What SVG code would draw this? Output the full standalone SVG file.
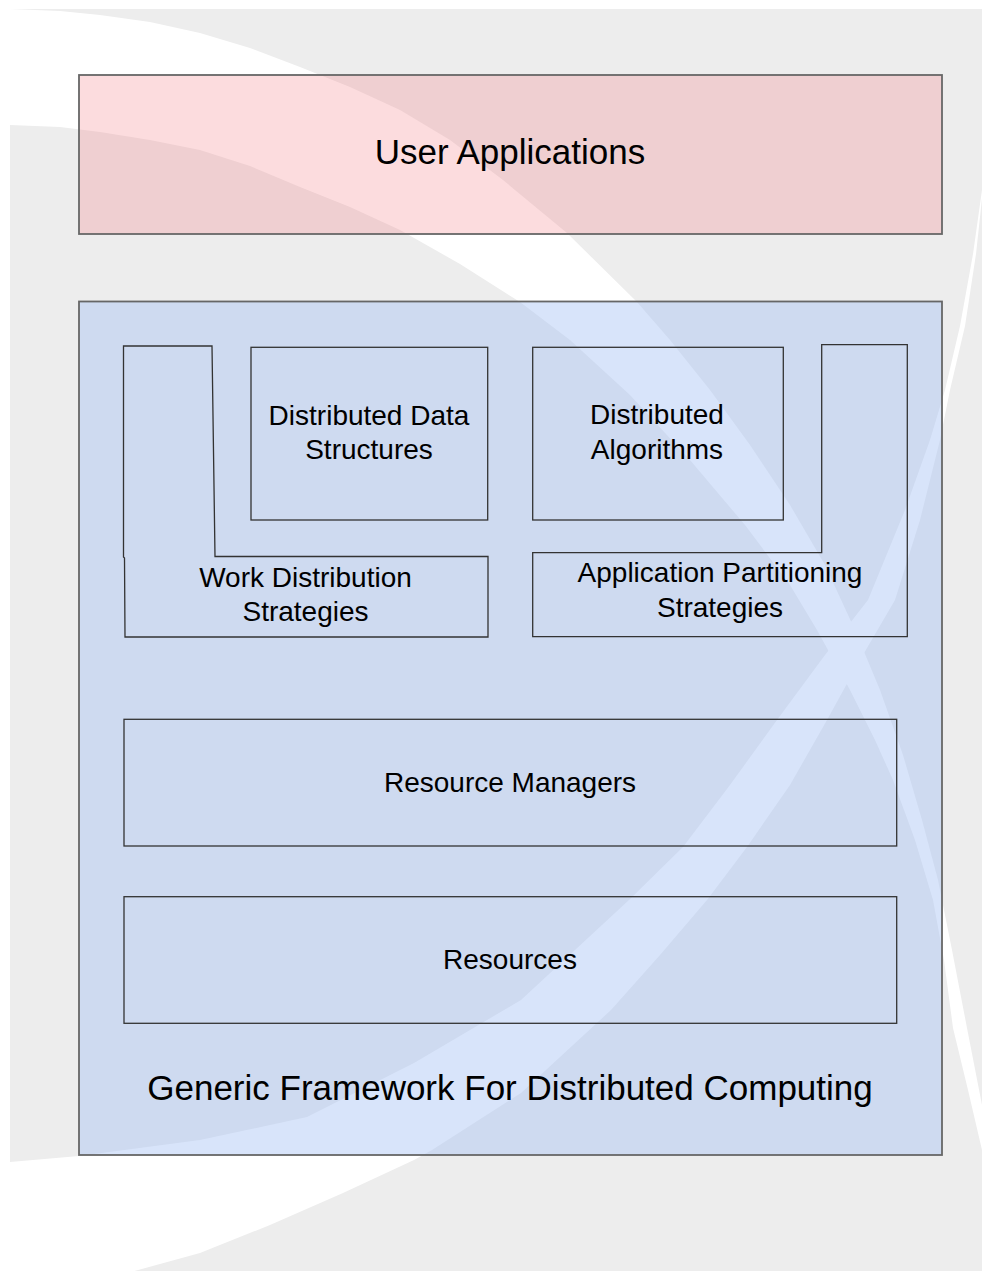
<svg xmlns="http://www.w3.org/2000/svg" width="982" height="1271" viewBox="0 0 982 1271">
<style>
.bg{fill:#ededed}
.swoosh{fill:#ffffff}
.outer{stroke:#666666;stroke-width:1.8}
.pink{fill:#f48a92;fill-opacity:0.3}
.blue{fill:#a8c3f4;fill-opacity:0.45}
.inner{fill:none;stroke:#333333;stroke-width:1.3}
text{font-family:"Liberation Sans",Arial,Helvetica,sans-serif;fill:#000000;text-anchor:middle}
.big{font-size:35px}
.mid{font-size:28px}
</style>
<rect x="0" y="0" width="982" height="1271" fill="#ffffff"/>
<g id="background">
<rect class="bg" x="10" y="9" width="972" height="1262"/>
<path class="swoosh" d="M10,9 L60,11 L100,15 L150,22 L200,33 L250,48 L300,67 L350,87 L400,110 L450,140 L503,180 L567,233 L637,302 L670,340 L710,390 L750,445 L790,505 L825,565 L855,630 L880,690 L903,755 L922,820 L938,880 L952,950 L967,1028 L982,1105 L990,1150 L990,1190 L982,1150 L968,1090 L953,1028 L944,960 L933,900 L915,840 L893,780 L875,740 L850,690 L817,630 L790,585 L745,525 L690,460 L630,395 L570,340 L520,302 L460,264 L400,230 L350,207 L300,187 L250,166 L200,150 L150,140 L100,132 L60,127 L10,125 Z"/>
<path class="swoosh" d="M10,1162 L79,1156 L200,1140 L307,1117 L414,1063 L521,1000 L629,900 L683,847 L730,785 L777,720 L825,655 L868,600 L905,510 L930,440 L945,390 L960,326 L973,254 L982,190 L986,150 L984,180 L976,254 L965,326 L950,390 L940,440 L920,520 L895,600 L860,660 L827,720 L790,785 L747,847 L707,900 L660,955 L611,1010 L521,1093 L432,1150 L414,1160 L343,1193 L270,1225 L200,1253 L120,1275 L10,1290 Z"/>
</g>
<g id="user-applications">
<rect class="outer pink" x="79" y="75" width="863" height="159"/>
<text class="big" x="510" y="164">User Applications</text>
</g>
<g id="framework">
<rect class="outer blue" x="79" y="301.5" width="863" height="853.5"/>
<text class="big" x="510" y="1100">Generic Framework For Distributed Computing</text>
</g>
<g id="distributed-data-structures">
<rect class="inner" x="251" y="347.3" width="236.7" height="172.7"/>
<text class="mid" x="369" y="425">Distributed Data</text>
<text class="mid" x="369" y="458.5">Structures</text>
</g>
<g id="distributed-algorithms">
<rect class="inner" x="532.7" y="347.3" width="250.6" height="172.7"/>
<text class="mid" x="657" y="423.5">Distributed</text>
<text class="mid" x="657" y="458.5">Algorithms</text>
</g>
<g id="work-distribution">
<path class="inner" d="M123.5,346 L212,346 L215,556.5 L488,556.5 L488,637 L125,637 L124.5,558 L123.5,557 Z"/>
<text class="mid" x="305.5" y="587">Work Distribution</text>
<text class="mid" x="305.5" y="620.5">Strategies</text>
</g>
<g id="application-partitioning">
<path class="inner" d="M821.7,344.7 L907.3,344.7 L907.3,636.7 L532.7,636.7 L532.7,552.7 L821.7,552.7 Z"/>
<text class="mid" x="720" y="582">Application Partitioning</text>
<text class="mid" x="720" y="617">Strategies</text>
</g>
<g id="resource-managers">
<rect class="inner" x="124" y="719.3" width="772.7" height="126.7"/>
<text class="mid" x="510" y="792">Resource Managers</text>
</g>
<g id="resources">
<rect class="inner" x="124" y="896.7" width="772.7" height="126.6"/>
<text class="mid" x="510" y="968.5">Resources</text>
</g>
<g id="connectors"></g>
</svg>
